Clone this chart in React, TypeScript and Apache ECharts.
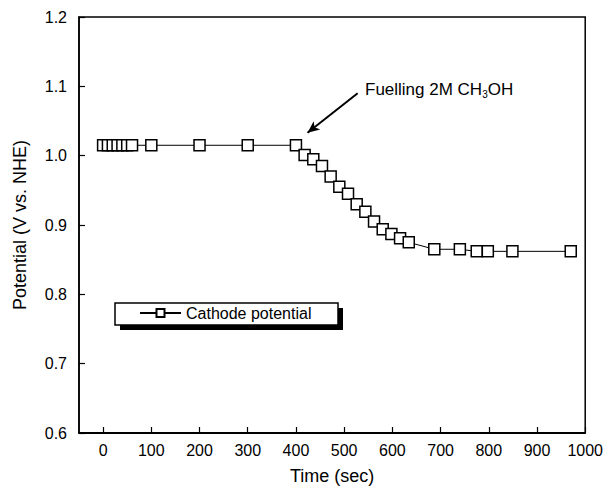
import React, { useEffect, useRef } from "react";
import * as echarts from "echarts";

const timeSec = [0, 10, 20, 30, 40, 50, 60, 100, 200, 300, 400, 418, 436, 454, 472, 490, 508, 526, 544, 562, 580, 598, 616, 634, 687, 740, 775, 798, 849, 970];
const potential = [1.015, 1.015, 1.015, 1.015, 1.015, 1.015, 1.015, 1.015, 1.015, 1.015, 1.015, 1.001, 0.995, 0.985, 0.97, 0.955, 0.945, 0.93, 0.919, 0.905, 0.894, 0.887, 0.881, 0.875, 0.865, 0.865, 0.862, 0.862, 0.862, 0.862];
const xTicks = [0, 100, 200, 300, 400, 500, 600, 700, 800, 900, 1000];
const seriesName = "Cathode potential";
const arrowFrom = [528, 1.09];
const arrowTo = [424, 1.033];

const FONT = "'Liberation Sans', Arial, Helvetica, sans-serif";

export default function App() {
  const ref = useRef<HTMLDivElement>(null);
  useEffect(() => {
    if (!ref.current) return;
    const chart = echarts.init(ref.current, null, { renderer: "svg" });
    const data = timeSec.map((t, i) => [t, potential[i]]);
    chart.setOption({
      animation: false,
      backgroundColor: "#fff",
      textStyle: { fontFamily: FONT, color: "#000" },
      grid: { left: 79, right: 20, top: 17, bottom: 60, show: true, borderColor: "#000", borderWidth: 1.5, backgroundColor: "transparent" },
      xAxis: {
        type: "value",
        min: -50,
        max: 1000,
        name: "Time (sec)",
        nameLocation: "middle",
        nameGap: 34,
        nameTextStyle: { fontSize: 18, color: "#000", fontFamily: FONT },
        axisLine: { onZero: false, lineStyle: { color: "#000", width: 1.8 } },
        axisTick: { inside: true, length: 6, customValues: xTicks, lineStyle: { color: "#000", width: 1.2 } },
        axisLabel: { customValues: xTicks, fontSize: 16, color: "#000", margin: 9, fontFamily: FONT, formatter: (v: number) => String(v) },
        splitLine: { show: false },
      },
      yAxis: {
        type: "value",
        min: 0.6,
        max: 1.2,
        interval: 0.1,
        name: "Potential (V vs. NHE)",
        nameLocation: "middle",
        nameGap: 50,
        nameTextStyle: { fontSize: 18, color: "#000", fontFamily: FONT },
        axisLine: { onZero: false, lineStyle: { color: "#000", width: 1.5 } },
        axisTick: { inside: true, length: 6, lineStyle: { color: "#000", width: 1.2 } },
        axisLabel: { fontSize: 16, color: "#000", margin: 12, fontFamily: FONT, formatter: (v: number) => v.toFixed(1) },
        splitLine: { show: false },
      },
      legend: {
        left: 139,
        top: 305,
        padding: 0,
        z: 10,
        itemWidth: 41,
        itemHeight: 10,
        itemGap: 4,
        textStyle: { fontSize: 16, color: "#000", fontFamily: FONT },
        data: [seriesName],
      },
      graphic: [
        { type: "rect", z: 3, shape: { x: 120, y: 308, width: 223, height: 22 }, style: { fill: "#000" } },
        { type: "rect", z: 4, shape: { x: 115, y: 303, width: 223, height: 22 }, style: { fill: "#fff", stroke: "#000", lineWidth: 1.5 } },
        {
          type: "text",
          z: 6,
          x: 365,
          y: 89,
          style: {
            text: "Fuelling 2M CH{sub|3}OH",
            fontSize: 17,
            fontFamily: FONT,
            fill: "#000",
            verticalAlign: "middle",
            rich: { sub: { fontSize: 10, fontFamily: FONT, fill: "#000", padding: [10, 0, 0, 0] } },
          },
        },
      ],
      series: [
        {
          name: seriesName,
          type: "line",
          data,
          symbol: "rect",
          symbolSize: 11,
          showAllSymbol: true,
          lineStyle: { color: "#000", width: 1 },
          itemStyle: { color: "#fff", borderColor: "#000", borderWidth: 1.5 },
          markLine: {
            silent: true,
            symbol: ["none", "arrow"],
            symbolSize: [8, 12],
            label: { show: false },
            lineStyle: { color: "#000", width: 2, type: "solid" },
            data: [[{ coord: arrowFrom }, { coord: arrowTo }]],
          },
        },
      ],
    });
    return () => chart.dispose();
  }, []);
  return <div ref={ref} style={{ position: "fixed", left: 0, top: 0, width: 606, height: 493, background: "#fff" }} />;
}
